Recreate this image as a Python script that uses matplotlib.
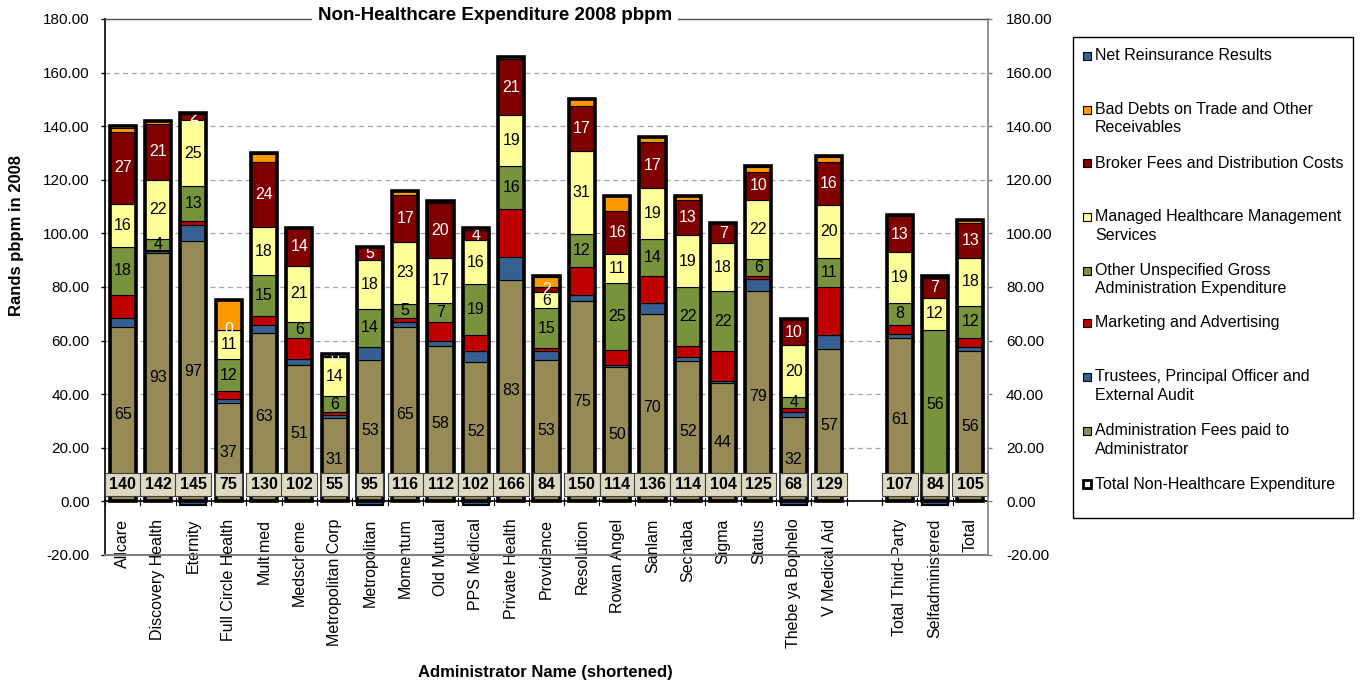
import matplotlib
matplotlib.use('Agg')
import matplotlib.pyplot as plt
from matplotlib.patches import Rectangle

plt.rcParams['font.family'] = ['Liberation Sans', 'DejaVu Sans']

categories = ["Allcare", "Discovery Health", "Eternity", "Full Circle Health", "Multimed",
              "Medscheme", "Metropolitan Corp", "Metropolitan", "Momentum", "Old Mutual",
              "PPS Medical", "Private Health", "Providence", "Resolution", "Rowan Angel",
              "Sanlam", "Sechaba", "Sigma", "Status", "Thebe ya Bophelo", "V Medical Aid",
              "Total Third-Party", "Selfadministered", "Total"]

admin_fees = [65, 92.6, 97, 36.6, 63, 51, 31.3, 52.6, 65, 58, 52, 82.6, 52.6, 74.6, 50, 70,
              52.4, 44, 78.6, 31.6, 57, 61, 8, 56]
trustees = [3.5, 1, 6, 1.5, 3, 2, 1, 5, 2, 2, 4, 8.5, 3.5, 2.5, 1, 4, 1.5, 1, 4.5, 1.6, 5,
            1.5, 0, 1.5]
marketing = [8.5, 0.3, 1.5, 3, 3, 8, 1, 0, 1.5, 7, 6, 18, 1, 10.5, 5.5, 10, 4, 11, 1, 1.6, 18,
             3.5, 0, 3.5]
other_admin = [18, 4, 13, 12, 15.3, 6, 6, 14.3, 5.3, 7, 19, 16, 15, 12, 25, 14, 22, 22.4, 6.4,
               4, 11, 8, 56, 12]
managed_care = [16, 22, 25, 11, 18, 21, 14.4, 18, 23, 17, 16.4, 19, 6, 31, 11, 19, 19.4, 18, 22,
                19.6, 19.6, 19, 12, 18]
broker_fees = [27, 21, 2, 0, 24.4, 14, 0.3, 5.2, 17.4, 20.4, 4, 21, 2, 17, 16, 17, 13, 7, 10.4,
               9.6, 16, 13.4, 7.4, 13]
bad_debts = [1.5, 1.3, 0.5, 11, 3, 0, 0.3, 0, 1.5, 0.5, 0.5, 1, 3.5, 2.5, 5.5, 2, 1.5, 0.5, 2,
             0, 2, 1, 0.5, 1]
net_reinsurance = [0, 0, -1.5, 0, 0, 0, 0, -1.5, 0, 0, -1.5, 0, 0, 0, 0, 0, 0, 0, 0, -1.5, 0,
                   0, -1.5, 0]
totals = [140, 142, 145, 75, 130, 102, 55, 95, 116, 112, 102, 166, 84, 150, 114, 136, 114, 104,
          125, 68, 129, 107, 84, 105]

series = [
    ("Administration Fees paid to\nAdministrator", admin_fees, "#968B56", "black"),
    ("Trustees, Principal Officer and\nExternal Audit", trustees, "#376092", None),
    ("Marketing and Advertising", marketing, "#C00000", None),
    ("Other Unspecified Gross\nAdministration Expenditure", other_admin, "#77933C", "black"),
    ("Managed Healthcare Management\nServices", managed_care, "#FFFF99", "black"),
    ("Broker Fees and Distribution Costs", broker_fees, "#800000", "white"),
    ("Bad Debts on Trade and Other\nReceivables", bad_debts, "#FF9900", None),
]

W, H = 1362, 684
fig = plt.figure(figsize=(W / 100, H / 100), dpi=100)
ax = fig.add_axes([105 / W, 1 - 555 / H, 883 / W, 536 / H])

n = len(categories)
gap_after = 21
xs = [i + (1 if i >= gap_after else 0) for i in range(n)]
bw = 0.74

ax.set_xlim(-0.5, n + 0.5)
ax.set_ylim(-20, 180)

for v in range(20, 161, 20):
    ax.axhline(v, color="#A6A6A6", ls=(0, (4, 3)), lw=0.9, zorder=0.5)
ax.axhline(0, color="black", lw=1.2, zorder=1)

bottoms = [0.0] * n
for name, vals, col, lblcol in series:
    ax.bar(xs, vals, bw, bottom=bottoms, color=col, edgecolor="black", lw=0.8, zorder=2)
    if lblcol is not None:
        for i in range(n):
            yc = bottoms[i] + vals[i] / 2
            if yc > 12:
                ax.text(xs[i], yc, f"{round(vals[i])}", ha="center",
                        va="center", fontsize=11.5, color=lblcol, zorder=3)
    bottoms = [b + v for b, v in zip(bottoms, vals)]

ax.bar(xs, net_reinsurance, bw, bottom=0, color="#376092", edgecolor="black", lw=1.5, zorder=2)
ax.bar(xs, totals, bw, fill=False, edgecolor="black", lw=2.6, zorder=4)

# category boundary ticks on the zero line
for b in range(n + 2):
    ax.plot([b - 0.5, b - 0.5], [-1.2, 1.2], color="black", lw=0.8, zorder=1)

for i in range(n):
    ax.text(xs[i], 6.3, f"{totals[i]}", ha="center", va="center", fontsize=11.5,
            fontweight="bold", zorder=6,
            bbox=dict(boxstyle="square,pad=0.28", fc="#DDD9C3", ec="#404040", lw=0.8))

# category labels placed just below the zero axis (they run past the plot bottom)
ax.set_xticks([])
for i in range(n):
    ax.text(xs[i], -6.4, categories[i], rotation=90, ha="center", va="top", fontsize=11.5,
            zorder=1, clip_on=False)

yt = list(range(-20, 181, 20))
ax.set_yticks(yt)
ax.set_yticklabels([f"{v:.2f}" for v in yt], fontsize=11)
ax.tick_params(axis="y", direction="out", length=3, width=1, color="black", pad=8)

ax.spines["left"].set_color("black")
ax.spines["left"].set_linewidth(1.2)
ax.spines["top"].set_color("#505050")
ax.spines["top"].set_linewidth(1.0)
ax.spines["right"].set_visible(False)
ax.spines["bottom"].set_color("#808080")
ax.spines["bottom"].set_linewidth(1.5)

ax2 = ax.twinx()
ax2.set_ylim(-20, 180)
ax2.set_yticks(yt)
ax2.set_yticklabels([f"{v:.2f}" for v in yt], fontsize=11)
ax2.tick_params(axis="y", direction="out", length=3, width=1, color="#808080", pad=10)
for s in ["left", "top", "bottom"]:
    ax2.spines[s].set_visible(False)
ax2.spines["right"].set_color("#808080")
ax2.spines["right"].set_linewidth(1.2)

def fx(x):
    return x / W

def fy(y):
    return 1 - y / H

fig.text(fx(495), fy(16), "Non-Healthcare Expenditure 2008 pbpm", ha="center", va="center",
         fontsize=13.5, fontweight="bold", zorder=10,
         bbox=dict(boxstyle="square,pad=0.3", fc="white", ec="none"))
fig.text(fx(17), fy(235), "Rands pbpm in 2008", rotation=90, ha="center", va="center",
         fontsize=12, fontweight="bold")
fig.text(fx(545), fy(673), "Administrator Name (shortened)", ha="center", va="center",
         fontsize=12, fontweight="bold")

# legend
fig.patches.append(Rectangle((fx(1073), fy(518)), fx(1353) - fx(1073), fy(37) - fy(518),
                             transform=fig.transFigure, fill=False, ec="black", lw=1.0))
legend_items = [
    ("Net Reinsurance Results", "#376092", 56, False),
    ("Bad Debts on Trade and Other\nReceivables", "#FF9900", 110, False),
    ("Broker Fees and Distribution Costs", "#800000", 163, False),
    ("Managed Healthcare Management\nServices", "#FFFF99", 217, False),
    ("Other Unspecified Gross\nAdministration Expenditure", "#77933C", 271, False),
    ("Marketing and Advertising", "#C00000", 323, False),
    ("Trustees, Principal Officer and\nExternal Audit", "#376092", 377, False),
    ("Administration Fees paid to\nAdministrator", "#968B56", 431, False),
    ("Total Non-Healthcare Expenditure", "white", 484, True),
]
for label, col, y, hollow in legend_items:
    s = 8
    fig.patches.append(Rectangle((fx(1083), fy(y + s / 2)), fx(s), s / H,
                                 transform=fig.transFigure, fc=col, ec="black",
                                 lw=2.0 if hollow else 0.8))
    for k, line in enumerate(label.split("\n")):
        fig.text(fx(1095), fy(y + 18 * k), line, ha="left", va="center", fontsize=11.5)

fig.savefig("out.png", dpi=100)
